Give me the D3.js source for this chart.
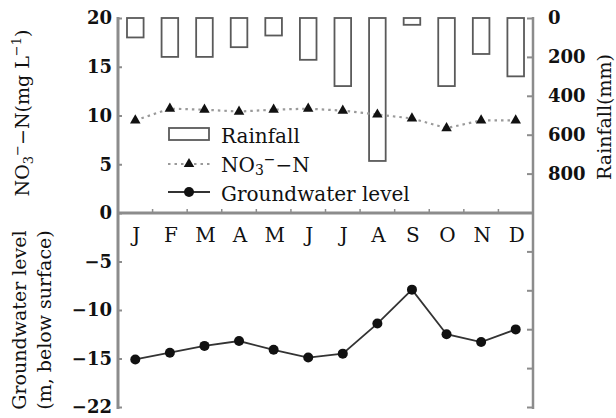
<!DOCTYPE html>
<html>
<head>
<meta charset="utf-8">
<script src="https://cdn.jsdelivr.net/npm/d3@7"></script>
<style>
  html, body { margin: 0; padding: 0; background: #fff; }
  svg { display: block; }
  text { font-family: "DejaVu Serif", serif; fill: #111; }
</style>
</head>
<body>
<svg id="chart" width="616" height="418"></svg>
<script>
// ---- data ----
const months = ["J","F","M","A","M","J","J","A","S","O","N","D"];
const rainfall = [100, 200, 200, 150, 90, 215, 350, 735, 35, 350, 185, 300];      // mm
const nitrate = [9.5, 10.7, 10.6, 10.4, 10.6, 10.7, 10.5, 10.1, 9.7, 8.7, 9.5, 9.5]; // mg/L
const groundwater = [-15.1, -14.4, -13.7, -13.2, -14.1, -14.9, -14.5, -11.4, -7.9, -12.5, -13.3, -12.0]; // m
const nitrateTicks = [0, 5, 10, 15, 20];
const gwTickValues = [-5, -10, -15, -20];
const gwTickLabels = ["−5", "−10", "−15", "−22"];
const rainTicks = [0, 200, 400, 600, 800];
const rainMinorTicks = [1000, 1200, 1400, 1600, 1800, 2000];

// ---- layout ----
const svg = d3.select("#chart");
const pLeft = 118, pRight = 533, pTop = 18, pMid = 213, pBottom = 407;
const axisColor = "#8c8c8c";

const x = d3.scaleBand().domain(d3.range(12)).range([pLeft, pRight]).padding(0);
const yN = d3.scaleLinear().domain([0, 20]).range([pMid, pTop]);
const yG = d3.scaleLinear().domain([-20, 0]).range([pBottom, pMid]);
const yR = d3.scaleLinear().domain([0, 2000]).range([pTop, pBottom]);
const cx = i => x(i) + x.bandwidth() / 2;

// ---- rainfall bars ----
const barW = x.bandwidth() * 0.48;
svg.append("g").selectAll("rect").data(rainfall).join("rect")
  .attr("x", (d, i) => cx(i) - barW / 2)
  .attr("y", yR(0))
  .attr("width", barW)
  .attr("height", d => yR(d) - yR(0))
  .attr("fill", "#fff")
  .attr("stroke", "#5a5a5a")
  .attr("stroke-width", 1.8);

// ---- nitrate line ----
const lineN = d3.line().x((d, i) => cx(i)).y(d => yN(d));
svg.append("path").datum(nitrate)
  .attr("d", lineN)
  .attr("fill", "none")
  .attr("stroke", "#9a9a9a")
  .attr("stroke-width", 2.2)
  .attr("stroke-dasharray", "2.5,4");
const tri = d3.symbol().type(d3.symbolTriangle).size(48);
svg.append("g").selectAll("path").data(nitrate).join("path")
  .attr("d", tri)
  .attr("transform", (d, i) => `translate(${cx(i)},${yN(d)})`)
  .attr("fill", "#111");

// ---- groundwater line ----
const lineG = d3.line().x((d, i) => cx(i)).y(d => yG(d));
svg.append("path").datum(groundwater)
  .attr("d", lineG)
  .attr("fill", "none")
  .attr("stroke", "#333")
  .attr("stroke-width", 1.8);
svg.append("g").selectAll("circle").data(groundwater).join("circle")
  .attr("cx", (d, i) => cx(i))
  .attr("cy", d => yG(d))
  .attr("r", 5)
  .attr("fill", "#111");

// ---- axes ----
svg.append("line").attr("x1", pLeft).attr("x2", pLeft).attr("y1", pTop - 1).attr("y2", pBottom + 2)
  .attr("stroke", axisColor).attr("stroke-width", 3);
const gTicksN = svg.append("g").attr("transform", `translate(${pLeft},0)`)
  .call(d3.axisRight(yN).tickValues(nitrateTicks).tickSize(4).tickFormat(""));
const gTicksG = svg.append("g").attr("transform", `translate(${pLeft},0)`)
  .call(d3.axisRight(yG).tickValues(gwTickValues).tickSize(4).tickFormat(""));
[gTicksN, gTicksG].forEach(g => {
  g.select(".domain").remove();
  g.selectAll("line").attr("stroke", axisColor).attr("stroke-width", 2);
});
const gLabN = svg.append("g").attr("transform", `translate(${pLeft - 5},0)`)
  .call(d3.axisLeft(yN).tickValues(nitrateTicks).tickSize(0).tickPadding(1));
const gLabG = svg.append("g").attr("transform", `translate(${pLeft - 5},0)`)
  .call(d3.axisLeft(yG).tickValues(gwTickValues).tickSize(0).tickPadding(1)
    .tickFormat((d, i) => gwTickLabels[i]));
[gLabN, gLabG].forEach(g => {
  g.select(".domain").remove();
  g.selectAll("text").attr("font-family", "DejaVu Serif").attr("font-size", 18)
    .attr("font-weight", "bold").attr("fill", "#111");
});

svg.append("line").attr("x1", pRight).attr("x2", pRight).attr("y1", pTop - 1).attr("y2", pBottom + 2)
  .attr("stroke", axisColor).attr("stroke-width", 2.5);
const gTicksR = svg.append("g").attr("transform", `translate(${pRight},0)`)
  .call(d3.axisLeft(yR).tickValues(rainTicks.concat(rainMinorTicks)).tickSize(6).tickFormat(""));
gTicksR.select(".domain").remove();
gTicksR.selectAll("line").attr("stroke", axisColor).attr("stroke-width", 2);
const gLabR = svg.append("g").attr("transform", `translate(${pRight + 14},0)`)
  .call(d3.axisRight(yR).tickValues(rainTicks).tickSize(0).tickPadding(1));
gLabR.select(".domain").remove();
gLabR.selectAll("text").attr("font-family", "DejaVu Serif").attr("font-size", 18)
  .attr("font-weight", "bold").attr("fill", "#111");

svg.append("line").attr("x1", pLeft).attr("x2", pRight).attr("y1", pMid).attr("y2", pMid)
  .attr("stroke", axisColor).attr("stroke-width", 3);
svg.append("g").selectAll("line").data(d3.range(1, 12)).join("line")
  .attr("x1", i => x(i)).attr("x2", i => x(i))
  .attr("y1", pMid).attr("y2", pMid - 4)
  .attr("stroke", axisColor).attr("stroke-width", 1.5);

svg.append("g").selectAll("text").data(months).join("text")
  .attr("x", (d, i) => cx(i) + 1)
  .attr("y", 242)
  .attr("text-anchor", "middle")
  .attr("font-size", 20)
  .text(d => d);

// ---- axis titles ----
const tN = svg.append("text")
  .attr("transform", "translate(29,113) rotate(-90)")
  .attr("text-anchor", "middle")
  .attr("font-size", 19);
tN.append("tspan").text("NO");
tN.append("tspan").attr("font-size", 13).attr("dy", 4).text("3");
tN.append("tspan").attr("font-size", 13).attr("dy", -11).text("−");
tN.append("tspan").attr("dy", 7).text("−N(mg L");
tN.append("tspan").attr("font-size", 13).attr("dy", -8).text("−1");
tN.append("tspan").attr("dy", 8).text(")");

svg.append("text")
  .attr("transform", "translate(26,320) rotate(-90)")
  .attr("text-anchor", "middle")
  .attr("font-size", 19)
  .text("Groundwater level");
svg.append("text")
  .attr("transform", "translate(51,320) rotate(-90)")
  .attr("text-anchor", "middle")
  .attr("font-size", 19)
  .text("(m, below surface)");

svg.append("text")
  .attr("transform", "translate(611,117) rotate(-90)")
  .attr("text-anchor", "middle")
  .attr("font-size", 19)
  .text("Rainfall(mm)");

// ---- legend ----
const lg = svg.append("g");
lg.append("rect").attr("x", 169).attr("y", 128).attr("width", 40).attr("height", 12)
  .attr("fill", "#fff").attr("stroke", "#5a5a5a").attr("stroke-width", 1.8);
lg.append("text").attr("x", 221).attr("y", 143).attr("font-size", 20).text("Rainfall");

lg.append("line").attr("x1", 168).attr("x2", 210).attr("y1", 164).attr("y2", 164)
  .attr("stroke", "#9a9a9a").attr("stroke-width", 2.2).attr("stroke-dasharray", "2.5,4");
lg.append("path").attr("d", tri).attr("transform", "translate(189,164)").attr("fill", "#111");
const tL = lg.append("text").attr("x", 221).attr("y", 172).attr("font-size", 20);
tL.append("tspan").text("NO");
tL.append("tspan").attr("font-size", 14).attr("dy", 3).text("3");
tL.append("tspan").attr("font-size", 14).attr("dy", -11).text("−");
tL.append("tspan").attr("dy", 8).text("−N");

lg.append("line").attr("x1", 168).attr("x2", 210).attr("y1", 192).attr("y2", 192)
  .attr("stroke", "#333").attr("stroke-width", 1.8);
lg.append("circle").attr("cx", 189).attr("cy", 192).attr("r", 5).attr("fill", "#111");
lg.append("text").attr("x", 221).attr("y", 201).attr("font-size", 20).text("Groundwater level");
</script>
</body>
</html>
